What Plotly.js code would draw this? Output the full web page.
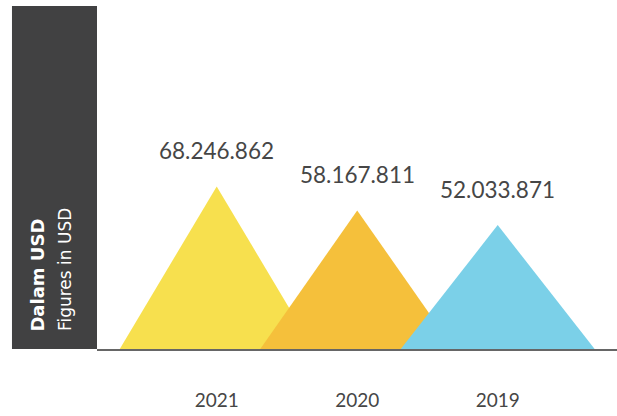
<!DOCTYPE html>
<html>
<head>
<meta charset="utf-8">
<script src="https://cdn.plot.ly/plotly-3.0.1.min.js"></script>
<style>html,body{margin:0;padding:0;background:#fff;}#chart{width:617px;height:416px;}</style>
</head>
<body>
<div id="chart"></div>
<script>
const years = ['2021', '2020', '2019'];
const values = [68246862, 58167811, 52033871];
const valueLabels = ['68.246.862', '58.167.811', '52.033.871'];
const colors = ['#F7E04E', '#F5C03B', '#7BD0E8'];

const halfW = 0.69;
const traces = values.map((v, i) => ({
  type: 'scatter',
  mode: 'lines',
  x: [i - halfW, i, i + halfW, i - halfW],
  y: [0, v, 0, 0],
  fill: 'toself',
  fillcolor: colors[i],
  line: {width: 0, color: colors[i]},
  hoverinfo: 'skip',
  showlegend: false
}));

const annotations = values.map((v, i) => ({
  x: i, y: v, xref: 'x', yref: 'y',
  text: valueLabels[i],
  showarrow: false,
  yanchor: 'bottom',
  yshift: 20,
  font: {family: 'Lato, sans-serif', size: 22.5, color: '#464646'}
}));

annotations.push({
  xref: 'paper', yref: 'paper', x: -0.1144, y: 0.045,
  text: '<b>Dalam USD</b>', textangle: -90, showarrow: false,
  xanchor: 'center', yanchor: 'bottom',
  font: {family: 'DejaVu Sans, sans-serif', size: 18, color: '#ffffff'}
});
annotations.push({
  xref: 'paper', yref: 'paper', x: -0.0615, y: 0.045,
  text: 'Figures in USD', textangle: -90, showarrow: false,
  xanchor: 'center', yanchor: 'bottom',
  font: {family: 'DejaVu Sans, sans-serif', size: 17, color: '#ffffff'}
});

const layout = {
  width: 617, height: 416,
  margin: {l: 97, r: 0, t: 6, b: 66.5},
  paper_bgcolor: '#ffffff', plot_bgcolor: '#ffffff',
  xaxis: {
    range: [-0.852, 2.849],
    tickvals: [0, 1, 2], ticktext: years,
    showgrid: false, zeroline: false,
    showline: true, linecolor: '#666666', linewidth: 2,
    ticks: '', ticklabelstandoff: 33,
    tickfont: {family: 'Lato, sans-serif', size: 19, color: '#464646'},
    fixedrange: true
  },
  yaxis: {
    range: [0, 144000000],
    showgrid: false, zeroline: false, showline: false,
    showticklabels: false, ticks: '',
    fixedrange: true
  },
  shapes: [{
    type: 'rect', xref: 'paper', yref: 'paper',
    x0: -0.1635, x1: 0, y0: 0, y1: 1,
    fillcolor: '#414142', line: {width: 0}, layer: 'below'
  }],
  annotations: annotations
};

Plotly.newPlot('chart', traces, layout, {displayModeBar: false, staticPlot: true});
</script>
</body>
</html>
